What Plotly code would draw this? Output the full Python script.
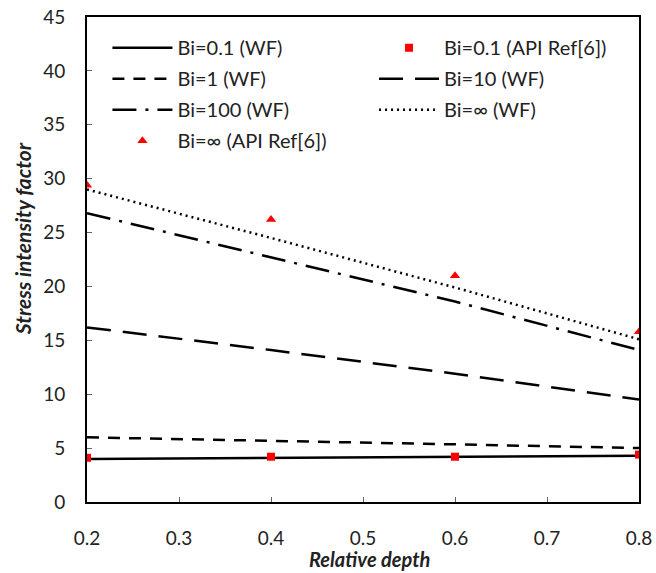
import plotly.graph_objects as go

depth = [0.2, 0.4, 0.6, 0.8]
bi01_wf = [4.0, 4.1, 4.2, 4.3]
bi01_api = [4.1, 4.2, 4.2, 4.4]
bi1_wf = [6.0, 5.7, 5.35, 5.0]
bi10_wf = [16.2, 14.1, 11.9, 9.5]
bi100_wf = [26.8, 22.7, 18.6, 14.1]
biinf_wf = [29.0, 24.5, 19.9, 15.1]
biinf_api = [29.4, 26.2, 21.0, 15.8]

x_title = "Relative depth"
y_title = "Stress intensity factor"

black = "black"
red = "#ff0000"

fig = go.Figure()
fig.add_trace(go.Scatter(x=depth, y=bi01_wf, mode="lines", name="Bi=0.1 (WF)",
                         legend="legend", legendgroup="a",
                         line=dict(color=black, width=2.5)))
fig.add_trace(go.Scatter(x=depth, y=bi01_api, mode="markers", name="Bi=0.1 (API Ref[6])",
                         legend="legend2", legendgroup="b",
                         marker=dict(color=red, symbol="square", size=8)))
fig.add_trace(go.Scatter(x=depth, y=bi1_wf, mode="lines", name="Bi=1 (WF)",
                         legend="legend", legendgroup="c",
                         line=dict(color=black, width=2.5, dash="12px,9px")))
fig.add_trace(go.Scatter(x=depth, y=bi10_wf, mode="lines", name="Bi=10 (WF)",
                         legend="legend2", legendgroup="d",
                         line=dict(color=black, width=2.5, dash="24px,12px")))
fig.add_trace(go.Scatter(x=depth, y=bi100_wf, mode="lines", name="Bi=100 (WF)",
                         legend="legend", legendgroup="e",
                         line=dict(color=black, width=2.5, dash="24px,9px,3px,9px")))
fig.add_trace(go.Scatter(x=depth, y=biinf_wf, mode="lines", name="Bi=∞ (WF)",
                         legend="legend2", legendgroup="f",
                         line=dict(color=black, width=2.5, dash="2px,4px")))
fig.add_trace(go.Scatter(x=depth, y=biinf_api, mode="markers", name="Bi=∞ (API Ref[6])",
                         legend="legend", legendgroup="g",
                         marker=dict(color=red, symbol="triangle-up", size=9)))

font_family = "Lato, Open Sans, sans-serif"
leg_common = dict(xanchor="left", yanchor="top", orientation="v",
                  font=dict(size=20, color="#222"), bgcolor="rgba(0,0,0,0)",
                  itemwidth=60, tracegroupgap=2, traceorder="grouped")
fig.update_layout(
    width=656, height=573,
    margin=dict(l=87, r=17, t=17, b=71, autoexpand=False),
    paper_bgcolor="white", plot_bgcolor="white",
    font=dict(family=font_family, size=19, color="#222"),
    showlegend=True,
    legend=dict(x=0.037, y=0.977, **leg_common),
    legend2=dict(x=0.52, y=0.977, **leg_common),
    xaxis=dict(range=[0.2, 0.8], dtick=0.1, tickformat=".1f", automargin=False,
               showline=True, linecolor="black", linewidth=2, mirror=True,
               ticks="inside", ticklen=5, tickcolor="#666",
               ticklabelstandoff=18, ticklabeloverflow="allow",
               showgrid=False, zeroline=False),
    yaxis=dict(range=[0, 45], dtick=5, automargin=False,
               showline=True, linecolor="black", linewidth=2, mirror=True,
               ticks="inside", ticklen=5, tickcolor="#666",
               ticklabelstandoff=16, ticklabeloverflow="allow",
               showgrid=False, zeroline=False),
    annotations=[
        dict(text="<b><i>" + x_title + "</i></b>", xref="paper", yref="paper",
             x=0.511, y=-0.118, xanchor="center", yanchor="middle", showarrow=False,
             font=dict(size=20, color="#222")),
        dict(text="<b><i>" + y_title + "</i></b>", xref="paper", yref="paper",
             x=-0.1178, y=0.544, xanchor="center", yanchor="middle", showarrow=False,
             textangle=-90, font=dict(size=21, color="#222")),
    ],
)

fig.write_html("out.html", config={"displayModeBar": False},
               post_script="document.body.style.margin='0';")
